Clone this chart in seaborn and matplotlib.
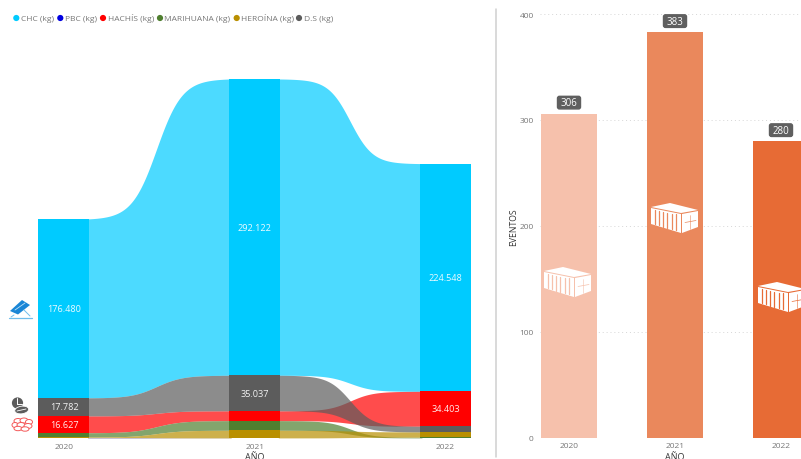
import numpy as np
import pandas as pd
import matplotlib
matplotlib.use("Agg")
import matplotlib.pyplot as plt
from matplotlib.patches import Polygon, FancyBboxPatch, Circle, Ellipse
import seaborn as sns

# Seizures per year, in kilograms
years = [2020, 2021, 2022]
chc_kg = [176480, 292122, 224548]
ds_kg = [17782, 35037, 5500]
hachis_kg = [16627, 9700, 34403]
marihuana_kg = [4200, 9500, 700]
heroina_kg = [700, 7500, 5300]
pbc_kg = [300, 100, 100]

# Events per year
eventos = [306, 383, 280]
bar_colors = ["#F6C1AC", "#EA885C", "#E76B35"]

series = {
    "CHC (kg)": (chc_kg, "#00CBFF"),
    "PBC (kg)": (pbc_kg, "#0000E0"),
    "HACHÍS (kg)": (hachis_kg, "#FF0000"),
    "MARIHUANA (kg)": (marihuana_kg, "#4F7F2F"),
    "HEROÍNA (kg)": (heroina_kg, "#B98F00"),
    "D.S (kg)": (ds_kg, "#5C5C5C"),
}
labelled = {"CHC (kg)": [0, 1, 2], "D.S (kg)": [0, 1], "HACHÍS (kg)": [0, 2]}

W, H = 801, 460
sns.set_theme(style="white")
plt.rcParams["font.family"] = ["Open Sans", "DejaVu Sans"]
TICK = "#777777"

fig = plt.figure(figsize=(W / 100, H / 100), dpi=100, facecolor="white")


def box(x0, y_top, x1, y_bot):
    return [x0 / W, 1 - y_bot / H, (x1 - x0) / W, (y_bot - y_top) / H]


# Ribbon chart: in each year the series stack from smallest to largest
BASE_Y = 439.0
ax = fig.add_axes(box(0, 10, 490, BASE_Y))
names = list(series)
ranks = []
for i in range(len(years)):
    order = sorted(names, key=lambda n: series[n][0][i])
    running = 0
    spans = {}
    for n in order:
        v = series[n][0][i]
        spans[n] = (running, running + v)
        running += v
    ranks.append(spans)

px_per_year = 190.75
bar_w = 51 / px_per_year
overlap = 0.01


def ribbon_ease(t, centre, k):
    # S-curve with long flat shoulders, scaled to run exactly from 0 to 1
    raw = 1 / (1 + np.exp(-k * (t - centre)))
    start = 1 / (1 + np.exp(k * centre))
    stop = 1 / (1 + np.exp(-k * (1 - centre)))
    return (raw - start) / (stop - start)


ease = np.linspace(0, 1, 300)
for a, centre, k in zip(range(len(years) - 1), [0.48, 0.5], [11, 12.5]):
    xa = years[a] + bar_w / 2
    xb = years[a + 1] - bar_w / 2
    xs = np.r_[xa - overlap, xa + (xb - xa) * ease, xb + overlap]
    ease_s = np.r_[0, ribbon_ease(ease, centre, k), 1]
    for n in names:
        lo0, hi0 = ranks[a][n]
        lo1, hi1 = ranks[a + 1][n]
        ax.fill_between(xs, lo0 + (lo1 - lo0) * ease_s, hi0 + (hi1 - hi0) * ease_s,
                        color=series[n][1], alpha=0.7, lw=0, zorder=2)

for n in names:
    frame = pd.DataFrame({
        "year": years,
        "kg": series[n][0],
        "base": [ranks[i][n][0] for i in range(len(years))],
    })
    sns.barplot(data=frame, x="year", y="kg", bottom=frame["base"], native_scale=True,
                width=bar_w, color=series[n][1], saturation=1, linewidth=0,
                ax=ax, zorder=3, errorbar=None)

for n, idxs in labelled.items():
    for i in idxs:
        lo, hi = ranks[i][n]
        ax.text(years[i], (lo + hi) / 2, f"{series[n][0][i]:,}".replace(",", "."),
                color="white", alpha=0.92, fontsize=6.6, ha="center", va="center", zorder=5)

ax.set_xlim(2020 - 64 / px_per_year, 2020 + (490 - 64) / px_per_year)
ax.set_ylim(0, (BASE_Y - 10) / 1.0143 * 1000)
ax.set_xticks(years, [str(y) for y in years])
ax.set_yticks([])
ax.set_xlabel("")
ax.set_ylabel("")
ax.tick_params(axis="x", length=0, pad=3.5, labelsize=6, labelcolor=TICK)
for s in ax.spines.values():
    s.set_visible(False)
ax.patch.set_alpha(0)

# Events bars
bx = fig.add_axes(box(540, 15, 801, 438.5))
ev = pd.DataFrame({"year": [str(y) for y in years], "eventos": eventos})
sns.barplot(data=ev, x="year", y="eventos", hue="year", palette=bar_colors, legend=False,
            width=0.534, saturation=1, linewidth=0, ax=bx, zorder=3)
bx.set_xlim(-29 / 106, (801 - 569) / 106)
bx.set_ylim(0, 400)
bx.set_yticks([0, 100, 200, 300, 400])
bx.set_xlabel("")
bx.set_ylabel("")
bx.tick_params(axis="both", length=0, labelsize=6, labelcolor=TICK)
bx.tick_params(axis="x", pad=3.5)
bx.tick_params(axis="y", pad=4.5)
bx.yaxis.grid(True, color="#D6D6D6", linestyle=(0, (1, 3)), linewidth=0.7, zorder=0)
bx.set_axisbelow(True)
for s in bx.spines.values():
    s.set_visible(False)
bx.patch.set_alpha(0)

# Overlay in pixel units for legend, titles and pictograms
ov = fig.add_axes([0, 0, 1, 1], zorder=10)
ov.set_xlim(0, W)
ov.set_ylim(H, 0)
ov.axis("off")
ov.patch.set_alpha(0)

ov.plot([495.5, 495.5], [10, 458], color="#CFCFCF", lw=1.1)

legend_x = [16.3, 60.3, 103, 160, 236.7, 299]
for (n, (_, col)), lx in zip(series.items(), legend_x):
    ov.add_patch(Circle((lx, 19), 3.1, color=col, lw=0))
    ov.text(lx + 4.5, 21.4, n, fontsize=6, color="#777777", va="baseline", ha="left")

ov.text(254.5, 459.6, "AÑO", fontsize=6.5, color="#333333", ha="center", va="baseline")
ov.text(675, 459.6, "AÑO", fontsize=6.5, color="#333333", ha="center", va="baseline")
ov.text(514, 227, "EVENTOS", fontsize=6.2, color="#333333", rotation=90, ha="center", va="center")

# Value tags above the event bars
for cx, v in zip([569, 675, 781], eventos):
    top = 438.5 - v * 423.5 / 400
    ov.add_patch(FancyBboxPatch((cx - 11.5, top - 17.2), 23, 12.6,
                                boxstyle="round,pad=0,rounding_size=2", fc="#5F5F5F", ec="#5F5F5F", lw=1))
    ov.text(cx, top - 10.7, str(v), fontsize=7, color="white", ha="center", va="center")


def container(ox, oy, shade):
    """Shipping container pictogram, origin at its left top corner."""
    white = dict(fc="white", ec="none")
    ov.add_patch(Polygon([(ox, oy + 4), (ox + 19, oy), (ox + 47, oy + 7), (ox + 30, oy + 10)], **white))
    ov.add_patch(Polygon([(ox + 31, oy + 11), (ox + 47, oy + 8), (ox + 47, oy + 24), (ox + 31, oy + 30)], **white))
    ov.add_patch(Polygon([(ox, oy + 5), (ox + 30, oy + 11), (ox + 30, oy + 30), (ox, oy + 21)], **white))
    for k in range(1, 7):
        sx = ox + k * 4.1
        ov.plot([sx, sx], [oy + 6 + k * 0.9, oy + 20 + k * 1.2], color=shade, lw=0.9)
    ov.plot([ox + 34, ox + 45], [oy + 19.5, oy + 17.5], color=shade, lw=0.5)
    ov.plot([ox + 39, ox + 39], [oy + 12, oy + 26], color=shade, lw=0.4)


for shade, (ox, oy) in zip(bar_colors, [(544, 268), (651, 204), (758, 283)]):
    container(ox, oy, shade)

# Drug pictograms beside the ribbon rows
ov.add_patch(Polygon([(10, 312), (22, 301), (30, 306), (18, 315.5)], fc="#1A86D6", ec="none"))
ov.plot([15, 25], [311, 304], color="#BFE3F7", lw=0.6)
ov.plot([9, 32], [318.5, 318.5], color="#6FBDEB", lw=0.9)
ov.plot([24, 30], [311, 317], color="#6FBDEB", lw=0.7)
ov.plot([14, 11], [316, 318], color="#6FBDEB", lw=0.7)

ov.add_patch(Circle((17.5, 404), 5.6, fc="#5C5C5C", ec="none"))
ov.plot([17, 17], [399, 405], color="white", lw=0.7)
ov.plot([17, 22], [405, 405], color="white", lw=0.7)
ov.add_patch(Ellipse((21.7, 411), 14, 7.6, angle=-8, fc="#5C5C5C", ec="white", lw=0.6))
ov.plot([17, 26], [412, 410], color="white", lw=0.6)

for cx, cy, rx, ry in [(18, 422, 4, 2.5), (24, 421.5, 4, 2.5), (29, 423, 3.5, 2.5),
                       (15, 426, 3, 2.5), (21, 426, 4, 2.5), (28, 427, 4, 2.5),
                       (18, 429.5, 4, 2.2), (25, 430, 4, 2.2)]:
    ov.add_patch(Ellipse((cx, cy), rx * 2, ry * 2, fc="white", ec="#F45A5A", lw=0.7))

fig.savefig("out.png", dpi=100, facecolor="white")
